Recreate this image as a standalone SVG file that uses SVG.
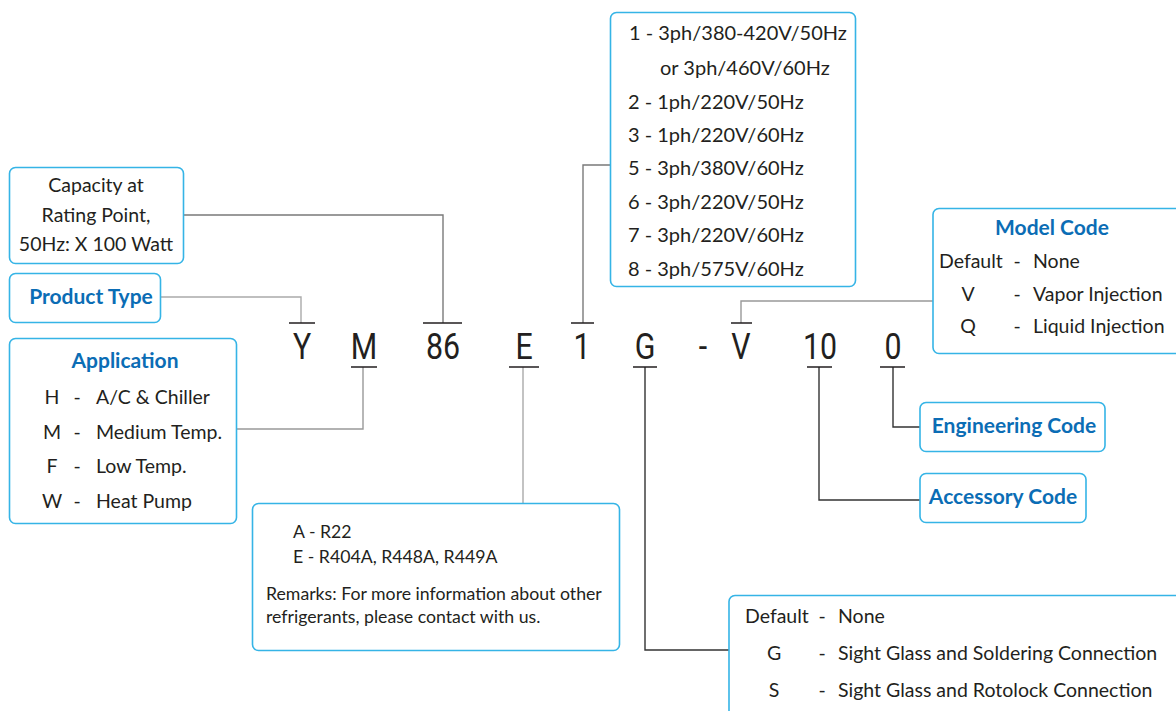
<svg xmlns="http://www.w3.org/2000/svg" width="1176" height="711" viewBox="0 0 1176 711">
<style>
.box{fill:#fff;stroke:#35b4e6;stroke-width:1.6}
.t{font-family:Lato,"Open Sans","Liberation Sans",sans-serif;font-size:19.5px;fill:#231f20}
.s{font-size:17.7px}
.v{font-size:20px}
.h{font-family:Lato,"Open Sans","Liberation Sans",sans-serif;font-size:21px;font-weight:bold;fill:#0b6db5}
.code{font-family:Roboto,"Liberation Sans",sans-serif;font-size:37px;fill:#231f20;text-anchor:middle}
.c{fill:none;stroke-width:1.4}
.tee{stroke:#231f20;stroke-width:1.4}
</style>
<rect width="1176" height="711" fill="#fff"/>
<g id="connectors">
<path class="c" stroke="#7a7a7a" d="M183 215H443V323"/>
<path class="c" stroke="#aaa" d="M160 297H301V323"/>
<path class="c" stroke="#999" d="M236 429H363V367"/>
<path class="c" stroke="#aaa" d="M523 367V503"/>
<path class="c" stroke="#7a7a7a" d="M610 165H583V323"/>
<path class="c" stroke="#333" d="M645 367V650H729"/>
<path class="c" stroke="#999" d="M741 323V301H933"/>
<path class="c" stroke="#333" d="M819 367V500H920"/>
<path class="c" stroke="#333" d="M893 367V427H920"/>
<path class="tee" d="M289 323H315M423 323H462M571 323H594M731 323H752M351 367H377M509 367H539M633 367H657M807 367H832M880 367H905"/>
</g>
<g id="code">
<text class="code" transform="translate(302 359) scale(0.82 1)">Y</text>
<text class="code" transform="translate(364 359) scale(0.82 1)">M</text>
<text class="code" transform="translate(443 359) scale(0.82 1)">86</text>
<text class="code" transform="translate(524 359) scale(0.82 1)">E</text>
<text class="code" transform="translate(582 359) scale(0.82 1)">1</text>
<text class="code" transform="translate(645 359) scale(0.82 1)">G</text>
<text class="code" transform="translate(703 359) scale(0.82 1)">-</text>
<text class="code" transform="translate(741 359) scale(0.82 1)">V</text>
<text class="code" transform="translate(820 359) scale(0.82 1)">10</text>
<text class="code" transform="translate(893 359) scale(0.82 1)">0</text>
</g>
<g id="capacity">
<rect class="box" x="9.5" y="167.5" width="174" height="96" rx="6"/>
<text class="t" text-anchor="middle"><tspan x="96" y="192">Capacity at</tspan><tspan x="96" y="222">Rating Point,</tspan><tspan x="96" y="251">50Hz: X 100 Watt</tspan></text>
</g>
<g id="product-type">
<rect class="box" x="9.5" y="273.5" width="151" height="49" rx="6"/>
<text class="h" x="91" y="304" text-anchor="middle">Product Type</text>
</g>
<g id="application">
<rect class="box" x="9.5" y="338.5" width="227" height="185" rx="6"/>
<text class="h" x="125" y="368" text-anchor="middle">Application</text>
<g class="t">
<text x="52" y="404" text-anchor="middle">H</text><text x="77" y="404" text-anchor="middle">-</text><text x="96" y="404">A/C &amp; Chiller</text>
<text x="52" y="439" text-anchor="middle">M</text><text x="77" y="439" text-anchor="middle">-</text><text x="96" y="439">Medium Temp.</text>
<text x="52" y="473" text-anchor="middle">F</text><text x="77" y="473" text-anchor="middle">-</text><text x="96" y="473">Low Temp.</text>
<text x="52" y="508" text-anchor="middle">W</text><text x="77" y="508" text-anchor="middle">-</text><text x="96" y="508">Heat Pump</text>
</g>
</g>
<g id="refrigerant">
<rect class="box" x="252.5" y="503.5" width="367" height="147" rx="6"/>
<text class="t s"><tspan x="293" y="538">A - R22</tspan><tspan x="293" y="563">E - R404A, R448A, R449A</tspan></text>
<text class="t s"><tspan x="266" y="600">Remarks: For more information about other</tspan><tspan x="266" y="623">refrigerants, please contact with us.</tspan></text>
</g>
<g id="voltage">
<rect class="box" x="610.5" y="12.5" width="245" height="274" rx="6"/>
<text class="t v">
<tspan x="629" y="40">1 - 3ph/380-420V/50Hz</tspan>
<tspan x="660" y="75">or 3ph/460V/60Hz</tspan>
<tspan x="628" y="109">2 - 1ph/220V/50Hz</tspan>
<tspan x="628" y="142">3 - 1ph/220V/60Hz</tspan>
<tspan x="628" y="175">5 - 3ph/380V/60Hz</tspan>
<tspan x="628" y="209">6 - 3ph/220V/50Hz</tspan>
<tspan x="628" y="242">7 - 3ph/220V/60Hz</tspan>
<tspan x="628" y="276">8 - 3ph/575V/60Hz</tspan>
</text>
</g>
<g id="model-code">
<rect class="box" x="933" y="208.5" width="260" height="145" rx="6"/>
<text class="h" x="1052" y="235" text-anchor="middle">Model Code</text>
<g class="t">
<text x="939" y="268">Default</text><text x="1017" y="268" text-anchor="middle">-</text><text x="1033" y="268">None</text>
<text x="968" y="301" text-anchor="middle">V</text><text x="1017" y="301" text-anchor="middle">-</text><text x="1033" y="301">Vapor Injection</text>
<text x="968" y="333" text-anchor="middle">Q</text><text x="1017" y="333" text-anchor="middle">-</text><text x="1033" y="333">Liquid Injection</text>
</g>
</g>
<g id="engineering-code">
<rect class="box" x="920" y="402.5" width="185" height="49" rx="6"/>
<text class="h" x="1014" y="433" text-anchor="middle">Engineering Code</text>
</g>
<g id="accessory-code">
<rect class="box" x="920" y="473.5" width="166" height="49" rx="6"/>
<text class="h" x="1003" y="504" text-anchor="middle">Accessory Code</text>
</g>
<g id="connection-code">
<rect class="box" x="729" y="595.5" width="470" height="140" rx="6"/>
<g class="t">
<text x="745" y="623">Default</text><text x="822" y="623" text-anchor="middle">-</text><text x="838" y="623">None</text>
<text x="774" y="660" text-anchor="middle">G</text><text x="822" y="660" text-anchor="middle">-</text><text x="838" y="660">Sight Glass and Soldering Connection</text>
<text x="774" y="697" text-anchor="middle">S</text><text x="822" y="697" text-anchor="middle">-</text><text x="838" y="697">Sight Glass and Rotolock Connection</text>
</g>
</g>
</svg>
